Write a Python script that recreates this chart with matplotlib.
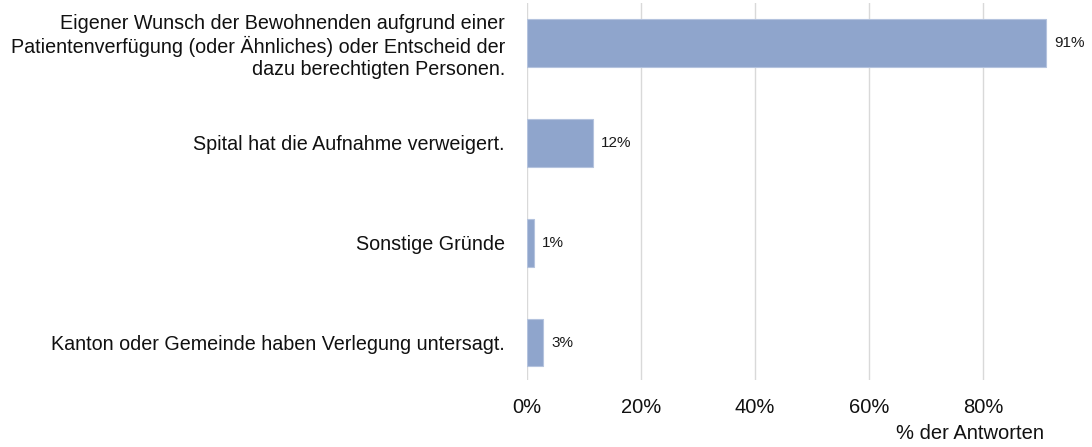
import matplotlib.pyplot as plt
from matplotlib.ticker import FuncFormatter

plt.rcParams['font.family'] = ['Liberation Sans', 'DejaVu Sans']

# answers, top to bottom
categories = [
    'Eigener Wunsch der Bewohnenden aufgrund einer\n'
    'Patientenverfügung (oder Ähnliches) oder Entscheid der\n'
    'dazu berechtigten Personen.',
    'Spital hat die Aufnahme verweigert.',
    'Sonstige Gründe',
    'Kanton oder Gemeinde haben Verlegung untersagt.',
]
shares = [91.0, 11.5, 1.2, 2.8]   # % der Antworten
value_labels = ['91%', '12%', '1%', '3%']
ticks = [0, 20, 40, 60, 80]

bar_color = '#8FA5CC'

fig = plt.figure(figsize=(10.92, 4.47), dpi=100)
ax = fig.add_axes([0.4826, 0.150, 0.5168, 0.843])

pos = list(range(len(categories)))
bars = ax.barh(pos, shares, height=0.48, color=bar_color,
               edgecolor='#B4C3DE', linewidth=0.8, zorder=3)

for b, lab in zip(bars, value_labels):
    ax.annotate(lab, (b.get_width(), b.get_y() + b.get_height() / 2),
                xytext=(6, 0), textcoords='offset points',
                va='center', ha='left', fontsize=11, color='#1a1a1a')

ax.set_xlim(0, 99)
ax.set_ylim(3.375, -0.40)
ax.set_yticks(pos)
ax.set_yticklabels(categories, fontsize=14.25, color='#111111', linespacing=1.2)
ax.set_xticks(ticks)
ax.xaxis.set_major_formatter(FuncFormatter(lambda v, p: f'{v:.0f}%'))
ax.tick_params(axis='x', labelsize=14.5, length=0, pad=13, colors='#111111')
ax.tick_params(axis='y', length=0, pad=16)

ax.grid(axis='x', color='#D9D9D9', linewidth=1.0, zorder=0)
for s in ax.spines.values():
    s.set_visible(False)

fig.text(0.956, 0.030, '% der Antworten', ha='right', va='center',
         fontsize=14.5, color='#111111')

fig.savefig('out.png', dpi=100)
